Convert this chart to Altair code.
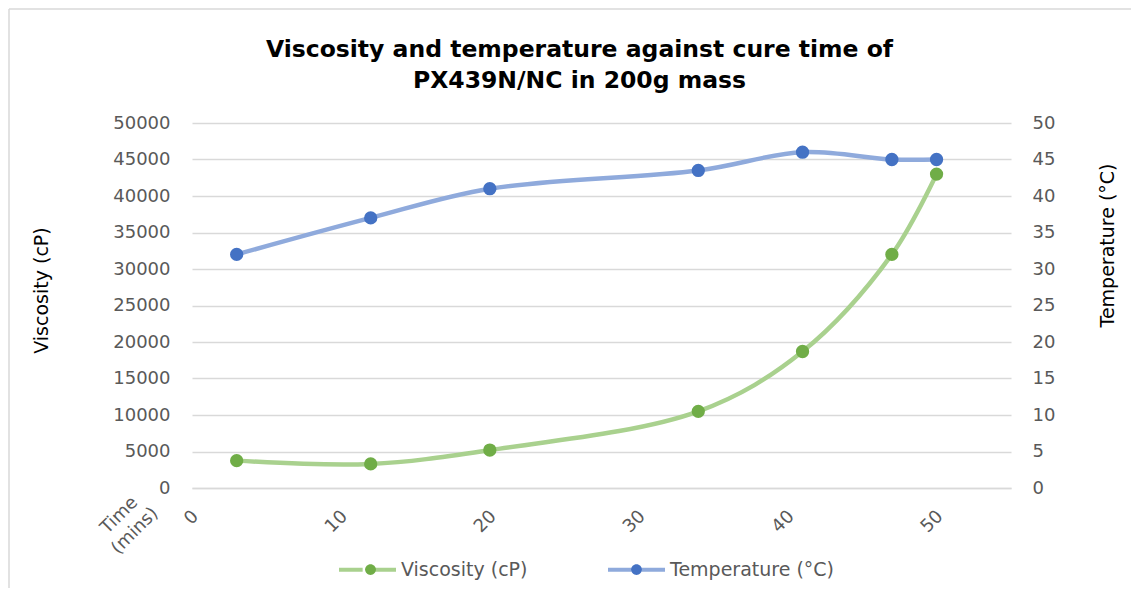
import altair as alt
import pandas as pd

# ---- data ----
time_mins = [3, 12, 20, 34, 41, 47, 50]
viscosity = [3750, 3300, 5200, 10500, 18700, 32000, 43000]
temperature = [32, 37, 41, 43.5, 46, 45, 45]
series_names = ["Viscosity (cP)", "Temperature (°C)"]
line_colors = ["#A9D18E", "#8FAADC"]
dot_colors = ["#70AD47", "#4472C4"]
x_ticks = [0, 10, 20, 30, 40, 50]
visc_ticks = list(range(0, 50001, 5000))
temp_ticks = list(range(0, 51, 5))

FONT = "DejaVu Sans"
GRID = "#d9d9d9"
TXT = "#595959"

df_v = pd.DataFrame({"time": time_mins, "value": viscosity,
                     "series": series_names[0], "series_pt": series_names[0] + "#"})
df_t = pd.DataFrame({"time": time_mins, "value": temperature,
                     "series": series_names[1], "series_pt": series_names[1] + "#"})

LINE_PATH = "M-1,0L-0.17,0M0.17,0L1,0"
DOT_PATH = "M-0.19,0A0.19,0.19,0,1,1,0.19,0A0.19,0.19,0,1,1,-0.19,0Z"
LEG_X, LEG_Y = 145, 416
LEG_FS = 19
LABEL_W = 130  # approx rendered width of "Viscosity (cP)" at LEG_FS

common_leg = dict(orient="none", legendY=LEG_Y, direction="horizontal",
                  title=None, symbolSize=3249, symbolStrokeWidth=4, labelFont=FONT,
                  labelFontSize=LEG_FS, labelOffset=3, labelLimit=400, padding=0)

stroke_enc = alt.Stroke("series:N",
                        scale=alt.Scale(domain=series_names, range=line_colors),
                        legend=alt.Legend(symbolType=LINE_PATH, labelColor=TXT,
                                          legendX=LEG_X, columnPadding=72, **common_leg))
fill_enc = alt.Fill("series_pt:N",
                    scale=alt.Scale(domain=[s + "#" for s in series_names], range=dot_colors),
                    legend=alt.Legend(symbolType=DOT_PATH, symbolStrokeColor="transparent",
                                      labelExpr="''", legendX=LEG_X + 3,
                                      columnPadding=72 + LABEL_W, **common_leg))

x_enc = alt.X("time:Q", scale=alt.Scale(domain=[0, 55], nice=False, zero=False),
              axis=alt.Axis(values=x_ticks, labelAngle=315, grid=False, ticks=False,
                            domain=True, domainColor=GRID, domainWidth=1.5,
                            labelFont=FONT, labelFontSize=18, labelColor=TXT,
                            labelPadding=19, labelOffset=-3,
                            title=["Time", "(mins)"], titleAngle=315, titleFont=FONT,
                            titleFontSize=18, titleFontWeight="normal", titleColor=TXT,
                            titleAlign="center", titleBaseline="middle", titleLineHeight=22,
                            titleX=-73, titleY=27))

y_v = alt.Y("value:Q", scale=alt.Scale(domain=[0, 50000], nice=False),
            axis=alt.Axis(orient="left", values=visc_ticks, format="d", grid=True,
                          gridColor=GRID, gridWidth=1.5, ticks=False, domain=False,
                          labelFont=FONT, labelFontSize=18, labelColor=TXT, labelPadding=22,
                          title="Viscosity (cP)", titleFont=FONT, titleFontSize=19,
                          titleFontWeight="normal", titleColor="#000000", titleAngle=270,
                          titleAlign="center", titleBaseline="middle",
                          titleX=-151, titleY=167))
y_t = alt.Y("value:Q", scale=alt.Scale(domain=[0, 50], nice=False),
            axis=alt.Axis(orient="right", values=temp_ticks, format="d", grid=False,
                          ticks=False, domain=False, labelFont=FONT, labelFontSize=18,
                          labelColor=TXT, labelPadding=21,
                          title="Temperature (°C)", titleFont=FONT, titleFontSize=19,
                          titleFontWeight="normal", titleColor="#000000", titleAngle=270,
                          titleAlign="center", titleBaseline="middle",
                          titleX=96, titleY=122))

def series_layer(df, y):
    base = alt.Chart(df)
    line = base.mark_line(interpolate="catmull-rom", strokeWidth=4.5).encode(
        x=x_enc, y=y, stroke=stroke_enc)
    pts = base.mark_circle(size=177, opacity=1).encode(x=x_enc, y=y, fill=fill_enc)
    return alt.layer(line, pts)

# light-grey chart-area frame (top and left edges, as visible in the reference)
FRAME_TOP = -114
frame_df = pd.DataFrame({"k": [0]})
frame_top = alt.Chart(frame_df).mark_rule(color=GRID, strokeWidth=1.5).encode(
    x=alt.value(-183), x2=alt.value(950), y=alt.value(FRAME_TOP))
frame_left = alt.Chart(frame_df).mark_rule(color=GRID, strokeWidth=1.5).encode(
    x=alt.value(-183), y=alt.value(FRAME_TOP), y2=alt.value(480))

# title is placed relative to the content bounds (which start at the frame's top edge)
TITLE_BOTTOM = -31  # title bottom, in plot coordinates
chart = alt.layer(
    series_layer(df_v, y_v), series_layer(df_t, y_t), frame_top, frame_left
).resolve_scale(
    y="independent"
).properties(
    width=819, height=365,
    autosize=alt.AutoSizeParams(type="none"),
    padding={"left": 184, "top": 115, "right": 120, "bottom": 100},
    background="white",
    title=alt.Title(["Viscosity and temperature against cure time of",
                     "PX439N/NC in 200g mass"],
                    font=FONT, fontSize=23.5, fontWeight="bold", color="#000000",
                    anchor="middle", dx=-22, offset=(FRAME_TOP - 0.75) - TITLE_BOTTOM,
                    lineHeight=31),
).configure_view(stroke=None)

chart.save("out.html", embed_options={"renderer": "svg", "actions": False})
